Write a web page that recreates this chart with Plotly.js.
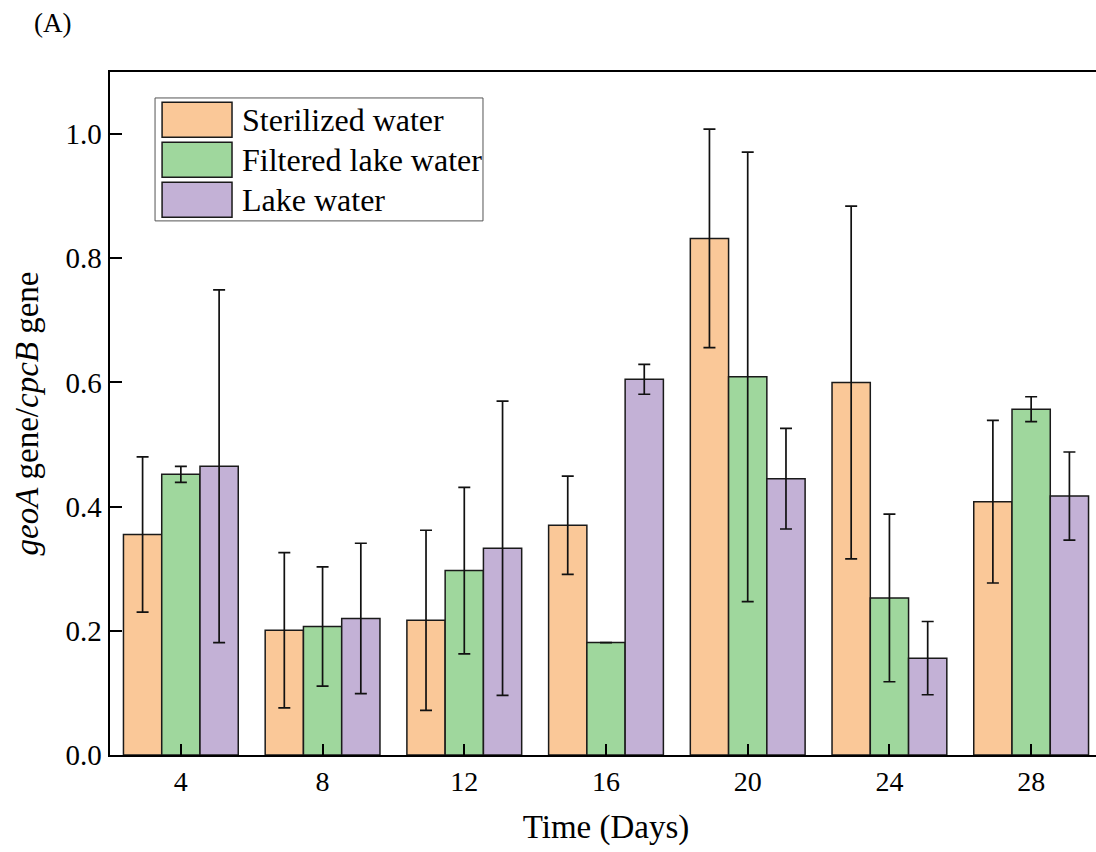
<!DOCTYPE html>
<html>
<head>
<meta charset="utf-8">
<script src="https://cdn.plot.ly/plotly-3.0.1.min.js"></script>
<style>
html, body { margin: 0; padding: 0; overflow: hidden; background: #fff; }
#chart { width: 1110px; height: 852px; }
</style>
</head>
<body>
<div id="chart"></div>
<script>
// ---- data ----
const days = ['4', '8', '12', '16', '20', '24', '28'];
const seriesNames = ['Sterilized water', 'Filtered lake water', 'Lake water'];
const seriesColors = ['#FAC898', '#9FD79D', '#C3B1D6'];
const sterilized = [0.355, 0.201, 0.217, 0.370, 0.832, 0.600, 0.408];
const sterilizedErr = [0.125, 0.125, 0.145, 0.079, 0.176, 0.284, 0.131];
const filtered = [0.452, 0.207, 0.297, 0.181, 0.609, 0.253, 0.557];
const filteredErr = [0.013, 0.096, 0.134, 0, 0.362, 0.135, 0.020];
const lake = [0.465, 0.220, 0.333, 0.605, 0.445, 0.156, 0.417];
const lakeErr = [0.284, 0.121, 0.237, 0.024, 0.081, 0.059, 0.071];
const yTicks = [0, 0.2, 0.4, 0.6, 0.8, 1.0];
const yTickText = ['0.0', '0.2', '0.4', '0.6', '0.8', '1.0'];

const values = [sterilized, filtered, lake];
const errors = [sterilizedErr, filteredErr, lakeErr];
const FONT = 'Liberation Serif, Times New Roman, serif';

const traces = values.map((v, i) => ({
  type: 'bar',
  name: seriesNames[i],
  x: days,
  y: v,
  marker: { color: seriesColors[i], line: { color: '#1a1a1a', width: 1.5 } },
  error_y: { type: 'data', array: errors[i], visible: true, color: '#111', thickness: 1.7, width: 6 },
  showlegend: false
}));

// custom legend (large swatches like the reference)
const shapes = [];
const annotations = [];
const lx0 = 0.0454, lx1 = 0.376, ly1 = 0.962, ly0 = 0.782;
shapes.push({ type: 'rect', xref: 'paper', yref: 'paper', x0: lx0, x1: lx1, y0: ly0, y1: ly1,
  line: { color: '#555', width: 1 }, fillcolor: 'rgba(255,255,255,0)' });
const rowH = 0.0586;
seriesNames.forEach((n, i) => {
  const top = 0.9556 - i * rowH;
  shapes.push({ type: 'rect', xref: 'paper', yref: 'paper',
    x0: 0.0525, x1: 0.1230, y0: top - 0.0512, y1: top,
    line: { color: '#1a1a1a', width: 1.5 }, fillcolor: seriesColors[i] });
  annotations.push({ xref: 'paper', yref: 'paper', x: 0.1310, y: top - 0.0256,
    xanchor: 'left', yanchor: 'middle', showarrow: false, text: n,
    font: { family: FONT, size: 32, color: '#000' } });
});
annotations.push({ xref: 'paper', yref: 'paper', x: -0.079, y: 1.072, xanchor: 'left', yanchor: 'middle',
  showarrow: false, text: '(A)', font: { family: FONT, size: 27, color: '#000' } });

const layout = {
  width: 1110,
  height: 852,
  margin: { l: 110, r: 8, t: 72, b: 97 },
  paper_bgcolor: '#fff',
  plot_bgcolor: '#fff',
  barmode: 'group',
  bargap: 0.19,
  bargroupgap: 0,
  font: { family: FONT, size: 29, color: '#000' },
  xaxis: {
    type: 'category',
    showline: true, linecolor: '#000', linewidth: 2, mirror: true,
    ticks: 'inside', ticklen: 11, tickwidth: 2, tickcolor: '#000',
    showgrid: false, zeroline: false,
    tickfont: { family: FONT, size: 28 },
    title: { text: 'Time (Days)', font: { family: FONT, size: 33 }, standoff: 19 }
  },
  yaxis: {
    range: [0, 1.1],
    tickvals: yTicks, ticktext: yTickText,
    showline: true, linecolor: '#000', linewidth: 2.5, mirror: false,
    ticks: 'inside', ticklen: 12, tickwidth: 2, tickcolor: '#000',
    showgrid: false, zeroline: false,
    tickfont: { family: FONT, size: 29 },
    title: { text: '<i>geoA</i> gene/<i>cpcB</i> gene', font: { family: FONT, size: 33 }, standoff: 17 }
  },
  shapes: shapes,
  annotations: annotations
};

Plotly.newPlot('chart', traces, layout, { displayModeBar: false, staticPlot: true });
</script>
</body>
</html>
